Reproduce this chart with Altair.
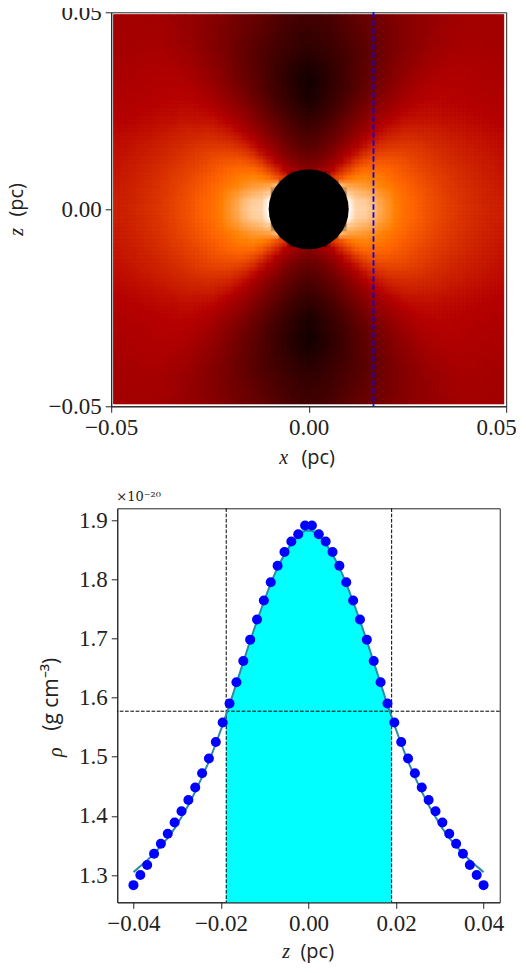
import altair as alt
import pandas as pd

# --- bottom panel values (centre outwards) ---
half_rho_points = [1.891,1.876,1.864,1.846,1.823,1.795,1.764,1.732,1.698,1.662,1.626,1.590,1.558,
                   1.525,1.497,1.472,1.448,1.427,1.408,1.389,1.370,1.353,1.336,1.317,1.300,1.283]
half_rho_line = [1.882,1.874,1.860,1.842,1.820,1.793,1.762,1.730,1.696,1.660,1.624,1.588,1.554,
                 1.522,1.492,1.466,1.441,1.418,1.398,1.379,1.363,1.349,1.336,1.325,1.315,1.305]
half_z = [0.00078,0.00235,0.00392,0.00549,0.00706,0.00863,0.01020,0.01176,0.01333,0.01490,0.01647,
          0.01804,0.01961,0.02118,0.02275,0.02431,0.02588,0.02745,0.02902,0.03059,0.03216,0.03373,
          0.03529,0.03686,0.03843,0.04000]
fwhm_left, fwhm_right = -0.0188, 0.0190
half_max = 1.577
slice_x = 0.0164

# --- top panel: quadrant of the image read by eye (rows z=0 upward, columns x=0 outward) ---
quadrant = [
[0,0,0,0,0,1.0,.92,.91,.88,.83,.79,.75,.72,.70,.68,.66,.645,.63,.615,.605,.595,.585,.575,.565,.56],
[0,0,0,0,0,.98,.91,.90,.87,.82,.785,.745,.72,.70,.68,.66,.645,.63,.615,.60,.59,.58,.57,.565,.56],
[0,0,0,0,0,.90,.87,.85,.83,.795,.77,.735,.71,.69,.675,.655,.64,.625,.61,.60,.59,.58,.57,.56,.555],
[0,0,0,0,.86,.82,.81,.80,.78,.76,.74,.72,.70,.68,.665,.65,.635,.62,.61,.595,.585,.575,.565,.56,.55],
[0,0,0,.60,.66,.72,.75,.76,.75,.74,.72,.70,.685,.67,.655,.64,.625,.615,.60,.59,.58,.57,.56,.555,.545],
[.38,.40,.45,.50,.57,.63,.68,.71,.71,.71,.70,.685,.67,.655,.64,.63,.615,.605,.595,.585,.575,.565,.555,.55,.54],
[.33,.35,.38,.43,.49,.55,.61,.65,.67,.675,.67,.665,.655,.64,.63,.62,.605,.595,.585,.575,.565,.56,.55,.545,.535],
[.29,.30,.33,.37,.43,.49,.54,.59,.62,.635,.64,.64,.635,.625,.615,.605,.595,.585,.575,.565,.56,.55,.545,.535,.53],
[.25,.26,.29,.33,.38,.43,.48,.53,.57,.59,.605,.61,.61,.605,.60,.59,.58,.575,.565,.56,.55,.545,.535,.53,.525],
[.22,.23,.26,.29,.33,.38,.43,.48,.52,.55,.57,.58,.585,.585,.58,.575,.57,.56,.555,.55,.54,.535,.53,.525,.52],
[.19,.20,.23,.26,.30,.34,.39,.43,.47,.51,.535,.55,.56,.565,.56,.56,.555,.55,.54,.535,.53,.525,.52,.515,.51],
[.16,.17,.20,.23,.27,.31,.35,.39,.43,.47,.50,.52,.535,.54,.54,.54,.54,.53,.53,.525,.52,.515,.51,.505,.50],
[.13,.15,.17,.20,.24,.28,.32,.36,.40,.43,.46,.49,.51,.52,.525,.525,.525,.52,.52,.515,.51,.505,.50,.50,.495],
[.10,.12,.15,.18,.21,.25,.29,.33,.36,.40,.43,.46,.48,.50,.51,.515,.515,.51,.51,.505,.50,.50,.495,.49,.49],
[.08,.10,.13,.16,.19,.23,.27,.30,.34,.37,.40,.43,.46,.48,.49,.50,.505,.505,.50,.50,.495,.49,.49,.485,.485],
[.07,.09,.12,.15,.18,.21,.25,.28,.32,.35,.38,.41,.44,.46,.48,.49,.495,.50,.50,.495,.49,.485,.485,.48,.48],
[.06,.08,.11,.14,.17,.20,.24,.27,.30,.33,.36,.39,.42,.44,.46,.475,.485,.49,.49,.49,.485,.48,.48,.475,.475],
[.07,.09,.11,.14,.17,.20,.23,.26,.29,.32,.35,.38,.40,.43,.45,.46,.475,.48,.485,.485,.48,.48,.475,.47,.47],
[.09,.10,.12,.15,.17,.20,.23,.26,.28,.31,.34,.37,.39,.41,.43,.45,.46,.47,.475,.48,.475,.475,.47,.47,.465],
[.11,.12,.14,.16,.18,.20,.23,.25,.28,.30,.33,.36,.38,.40,.42,.44,.45,.46,.47,.47,.47,.47,.465,.465,.46],
[.13,.14,.15,.17,.19,.21,.23,.25,.28,.30,.33,.35,.37,.39,.41,.43,.44,.45,.46,.465,.465,.465,.46,.46,.455],
[.145,.15,.165,.18,.20,.22,.24,.26,.28,.30,.33,.35,.37,.39,.40,.42,.43,.44,.45,.46,.46,.46,.46,.455,.455],
[.155,.16,.175,.19,.21,.23,.25,.27,.29,.31,.33,.35,.37,.38,.40,.41,.43,.44,.45,.455,.46,.46,.455,.455,.45],
[.17,.175,.185,.20,.22,.24,.26,.28,.30,.32,.33,.35,.37,.38,.40,.41,.42,.44,.45,.45,.455,.455,.455,.45,.45],
[.18,.185,.195,.21,.23,.25,.27,.29,.30,.32,.34,.36,.37,.39,.40,.41,.42,.43,.44,.45,.45,.45,.45,.45,.45],
]
cell = 0.00202
heat_domain = [0, .5, .7, .75, 1]
heat_range = ["#000000", "#b60000", "#ff6600", "#ff8000", "#ffffff"]
disk_area = 6400
# the same grid is drawn five times, slightly displaced and faded, to soften cell edges
soften = [(0, 0, 1.0), (-.25, -.25, 1 / 2), (.25, -.25, 1 / 3), (-.25, .25, 1 / 4), (.25, .25, 1 / 5)]
image_edge = 0.0494

serif = "Liberation Serif"
sans = "Open Sans"
ink = "#222222"
minus = "replace(format(datum.value,'.2f'),'-','\u2212')"
minus1 = "format(datum.value,'.1f')"

hscale = alt.Scale(domain=heat_domain, range=heat_range, interpolate="rgb")
n = len(quadrant)


def clamp(v):
    return max(-image_edge, min(image_edge, v))


def heat_frame(dx, dz):
    rows = []
    for j in range(-n + 1, n):
        for i in range(-n + 1, n):
            # outermost cells of the base reach out to the image edge
            x0 = (i - .5 + dx) * cell if i > -n + 1 else -image_edge
            x1 = (i + .5 + dx) * cell if i < n - 1 else image_edge
            z0 = (j - .5 + dz) * cell if j > -n + 1 else -image_edge
            z1 = (j + .5 + dz) * cell if j < n - 1 else image_edge
            rows.append({"x0": round(clamp(x0), 5), "x1": round(clamp(x1), 5),
                         "z0": round(clamp(z0), 5), "z1": round(clamp(z1), 5),
                         "t": quadrant[abs(j)][abs(i)]})
    return pd.DataFrame(rows)


def axis(values, expr, **kw):
    return alt.Axis(values=values, labelExpr=expr, title=None, grid=False, **kw)


def txt(text, x, y, font=sans, size=20, style="normal", angle=0, align="center"):
    return alt.Chart(pd.DataFrame({"s": [text]})).mark_text(
        font=font, fontSize=size, fontStyle=style, angle=angle, align=align,
        baseline="middle", color=ink
    ).encode(text="s:N", x=alt.value(x), y=alt.value(y))


tx = alt.Scale(domain=[-0.05, 0.05], nice=False, zero=False)
tz = alt.Scale(domain=[-0.05, 0.05], nice=False, zero=False)
# the page leaves only 10px right of the plot: the last x label is nudged in so that it stays whole
nudge = {"condition": {"test": "datum.value > 0.04", "value": -10}, "value": 0}
img_layers = []
for k, (dx, dz, op) in enumerate(soften):
    img_layers.append(
        alt.Chart(heat_frame(dx, dz)).mark_rect(
            strokeWidth=0.7 if k == 0 else 0, opacity=op
        ).encode(
            x=alt.X("x0:Q", scale=tx, axis=axis([-0.05, 0, 0.05], minus, labelOffset=nudge)),
            x2="x1:Q",
            y=alt.Y("z0:Q", scale=tz, axis=axis([-0.05, 0, 0.05], minus)),
            y2="z1:Q",
            color=alt.Color("t:Q", scale=hscale, legend=None),
            stroke=alt.Stroke("t:Q", scale=hscale, legend=None),
        )
    )
disk = alt.Chart(pd.DataFrame({"x": [0.0], "z": [0.0]})).mark_point(
    filled=True, color="black", opacity=1, size=disk_area, shape="circle"
).encode(x=alt.X("x:Q", scale=tx), y=alt.Y("z:Q", scale=tz))
cut = alt.Chart(pd.DataFrame({"x": [slice_x]})).mark_rule(
    color="#0000ff", strokeWidth=1.8, strokeDash=[5.5, 2.5]
).encode(x=alt.X("x:Q", scale=tx))

top = alt.layer(
    *img_layers, disk, cut,
    txt("x", 172.5, 446, font=serif, style="italic"),
    txt("(pc)", 207, 446),
    txt("z", -94, 219.5, font=serif, style="italic", angle=270),
    txt("(pc)", -94, 187.5, angle=270),
).resolve_scale(color="shared", stroke="shared").properties(width=395, height=394)

# bottom panel
z_all = [-v for v in reversed(half_z)] + half_z
rho_pts = list(reversed(half_rho_points)) + half_rho_points
rho_line = list(reversed(half_rho_line)) + half_rho_line
prof = pd.DataFrame({"z": z_all, "pts": rho_pts, "fit": rho_line})

fill_z = [fwhm_left] + [v for v in z_all if fwhm_left < v < fwhm_right] + [fwhm_right]
fill_rho = [half_max] + [r for v, r in zip(z_all, rho_pts) if fwhm_left < v < fwhm_right] + [half_max]
y_low, y_high = 1.254, 1.92
fill = pd.DataFrame({"z": fill_z, "rho": fill_rho, "base": [y_low] * len(fill_z)})

bx = alt.Scale(domain=[-0.0437, 0.0437], nice=False, zero=False)
by = alt.Scale(domain=[y_low, y_high], nice=False, zero=False)

area = alt.Chart(fill).mark_area(color="#00ffff", opacity=1).encode(
    x=alt.X("z:Q", scale=bx, axis=axis([-0.04, -0.02, 0, 0.02, 0.04], minus)),
    y=alt.Y("rho:Q", scale=by, axis=axis([1.3, 1.4, 1.5, 1.6, 1.7, 1.8, 1.9], minus1)),
    y2="base:Q",
)
vlines = alt.Chart(pd.DataFrame({"z": [fwhm_left, fwhm_right]})).mark_rule(
    color="black", strokeWidth=1, strokeDash=[3.7, 1.6]
).encode(x=alt.X("z:Q", scale=bx))
hline = alt.Chart(pd.DataFrame({"rho": [half_max]})).mark_rule(
    color="black", strokeWidth=1, strokeDash=[3.7, 1.6]
).encode(y=alt.Y("rho:Q", scale=by))
fit = alt.Chart(prof).mark_line(color="#2b8ca6", strokeWidth=2).encode(
    x=alt.X("z:Q", scale=bx), y=alt.Y("fit:Q", scale=by)
)
dots = alt.Chart(prof).mark_point(filled=True, color="#0000ff", opacity=1, size=100).encode(
    x=alt.X("z:Q", scale=bx), y=alt.Y("pts:Q", scale=by)
)
# invisible stub: widens the panel's bounds to the right so that centring lands the plot in place
stub = alt.Chart(pd.DataFrame({"a": [0]})).mark_rule(opacity=0).encode(
    x=alt.value(393), y=alt.value(0), y2=alt.value(10)
)

bottom = alt.layer(
    area, vlines, hline, fit, dots, stub,
    txt("z", 169, 444, font=serif, style="italic"),
    txt("(pc)", 200, 444),
    txt("\u00d710\u207b\u00b2\u2070", -1, -11, font="DejaVu Serif", size=13, align="left"),
    txt("\u03c1", -61, 244, font=serif, style="italic", angle=270),
    txt("(g cm\u207b\u00b3)", -65, 186, size=21, angle=270),
).properties(width=382.5, height=394)

chart = alt.vconcat(top, bottom, spacing=21, center=True).configure_view(
    stroke=ink, strokeWidth=1
).configure_axis(
    labelFont=serif, labelFontSize=23, labelColor=ink, tickColor=ink, domainColor=ink,
    tickSize=6, labelOverlap=False, labelFlush=False, labelPadding=4
).properties(padding={"left": -2, "top": -7.7, "right": -1, "bottom": 0}, background="white")

chart.save("out.html", embed_options={"renderer": "svg", "actions": False})
